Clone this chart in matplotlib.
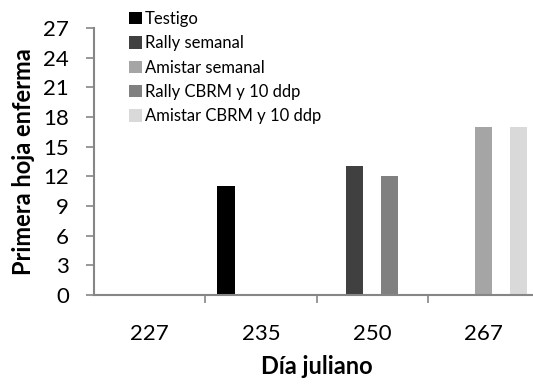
import matplotlib
matplotlib.use("Agg")
import matplotlib.pyplot as plt
import numpy as np
from matplotlib.patches import Patch

categories = ["227", "235", "250", "267"]
series_names = ["Testigo", "Rally semanal", "Amistar semanal",
                "Rally CBRM y 10 ddp", "Amistar CBRM y 10 ddp"]
testigo = [0, 11, 0, 0]
rally_semanal = [0, 0, 13, 0]
amistar_semanal = [0, 0, 0, 17]
rally_cbrm = [0, 0, 12, 0]
amistar_cbrm = [0, 0, 0, 17]
series_values = [testigo, rally_semanal, amistar_semanal, rally_cbrm, amistar_cbrm]
colors = ["#000000", "#404040", "#a5a5a5", "#808080", "#d9d9d9"]
yticks = [0, 3, 6, 9, 12, 15, 18, 21, 24, 27]

plt.rcParams['font.family'] = ['Lato', 'DejaVu Sans']

fig = plt.figure(figsize=(5.33, 3.88), dpi=100)
ax = fig.add_axes([94/533, 1 - 295/388, (539 - 94)/533, (295 - 28)/388])

x = np.arange(len(categories))
w = 0.158
for i, (vals, c) in enumerate(zip(series_values, colors)):
    ax.bar(x + (i - 2) * w, vals, width=w, color=c, linewidth=0)

ax.set_xlim(-0.5, len(categories) - 0.5)
ax.set_ylim(0, 27)
ax.set_yticks(yticks)
ax.set_xticks(x)
ax.set_xticklabels(categories)
ax.set_xticks(np.arange(0.5, len(categories) - 0.5, 1), minor=True)
ax.tick_params(axis='x', which='major', length=0, labelsize=16, pad=21)
ax.tick_params(axis='x', which='minor', length=6, color='#868686', width=1.2)
ax.tick_params(axis='y', length=6, color='#868686', width=1.2, labelsize=16, pad=12)

for s in ['top', 'right']:
    ax.spines[s].set_visible(False)
for s in ['left', 'bottom']:
    ax.spines[s].set_color('#868686')
    ax.spines[s].set_linewidth(1.5)

ax.set_ylabel("Primera hoja enferma", fontsize=17, fontweight='bold', labelpad=6)
ax.set_xlabel("Día juliano", fontsize=17, fontweight='bold', labelpad=8)

handles = [Patch(facecolor=c, edgecolor='none') for c in colors]
fig.legend(handles, series_names, loc='upper left', bbox_to_anchor=(124/533, 1 - 6/388),
           frameon=False, fontsize=12, handlelength=0.75, handleheight=0.75,
           handletextpad=0.2, labelspacing=0.5, borderaxespad=0, borderpad=0.3)

fig.savefig("out.png", dpi=100)
